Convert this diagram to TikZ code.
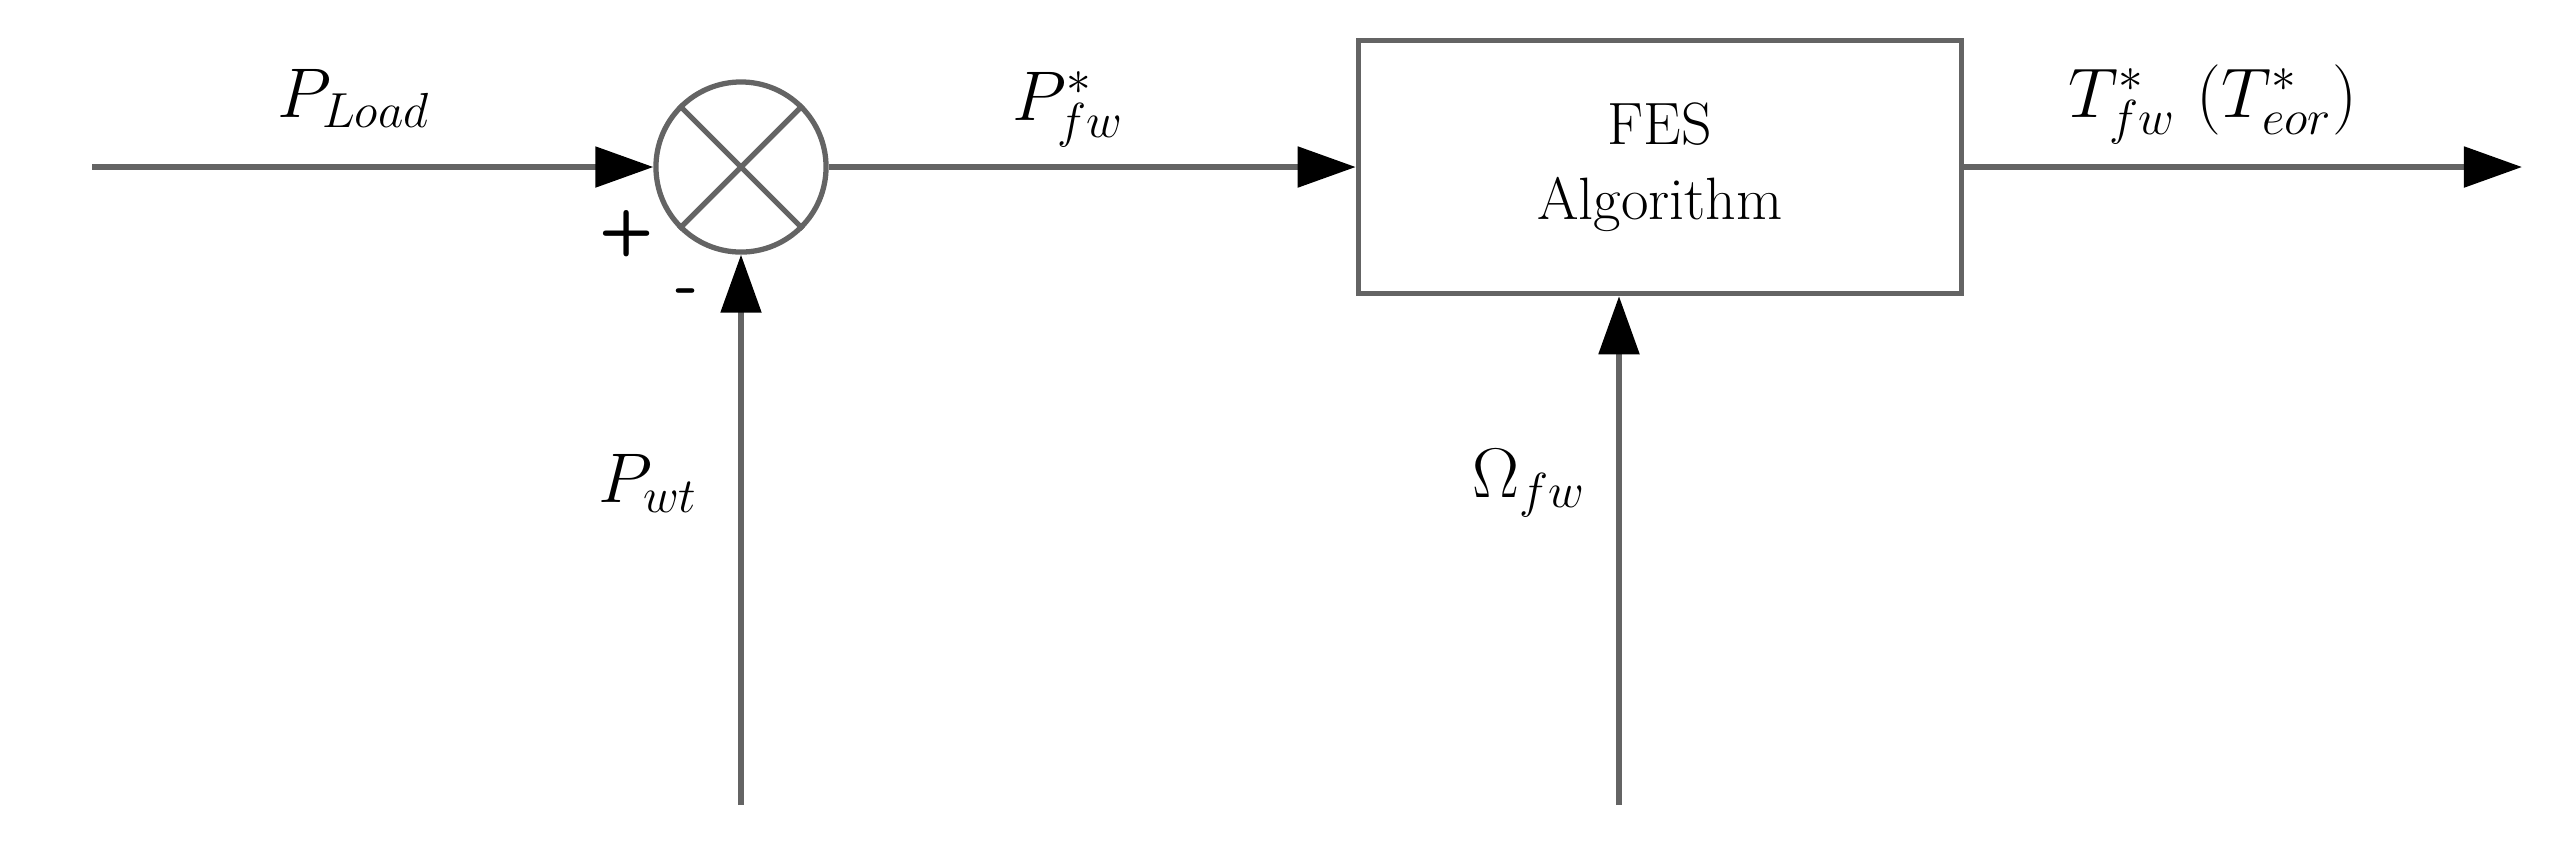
\documentclass[tikz,border=0pt]{standalone}
\usepackage{fix-cm}
\usetikzlibrary{arrows.meta}
\definecolor{linegray}{RGB}{100,100,100}
\begin{document}
\begin{tikzpicture}[x=0.01cm,y=-0.01cm,
  wire/.style={draw=linegray,line width=1.5pt},
  arr/.style={wire,-{Triangle[length=5.8mm,width=4mm,color=black]}},
  lbl/.style={font=\fontsize{20}{24}\selectfont,inner sep=0pt,anchor=base west},
  sign/.style={font=\sffamily\bfseries\fontsize{18}{20}\selectfont,inner sep=0pt},
  blk/.style={draw=linegray,line width=1.5pt,minimum width=6.03cm,minimum height=2.53cm,align=center,font=\fontsize{17}{21.3}\selectfont,inner sep=0pt},
  sumnode/.style={draw=linegray,line width=1.5pt,circle,minimum size=1.7cm,inner sep=0pt}]
\useasboundingbox (0,0) rectangle (2557,859);
\node[sumnode] (sum) at (741,167) {};
\draw[wire] (sum.45) -- (sum.225) (sum.135) -- (sum.315);
\node[blk] (fes) at (1660,167) {FES\\Algorithm};
\coordinate (in) at (92,167);
\coordinate (out) at (2522,167);
\coordinate (pwt) at (741,805);
\coordinate (om) at (1619,805);
\draw[arr] (in) -- (sum.west);
\draw[arr] (sum.east) -- (fes.west);
\draw[arr] (fes.east) -- (out);
\draw[arr] (pwt) -- (sum.south);
\draw[arr] (om) -- (om |- fes.south);
\node[lbl] (lload) at (277,117) {$P_{Load}$};
\node[lbl] (lpfw) at (1012,120) {$P^*_{fw}$};
\node[lbl] (ltfw) at (2068,117) {$T^*_{fw}\ (T^*_{eor})$};
\node[lbl] (lpwt) at (598,502) {$P_{wt}$};
\node[lbl] (lom) at (1472,497) {$\Omega_{fw}$};
\node[sign] (plus) at (627,234) {+};
\node[sign] (minus) at (687,297) {-};
\end{tikzpicture}
\end{document}
